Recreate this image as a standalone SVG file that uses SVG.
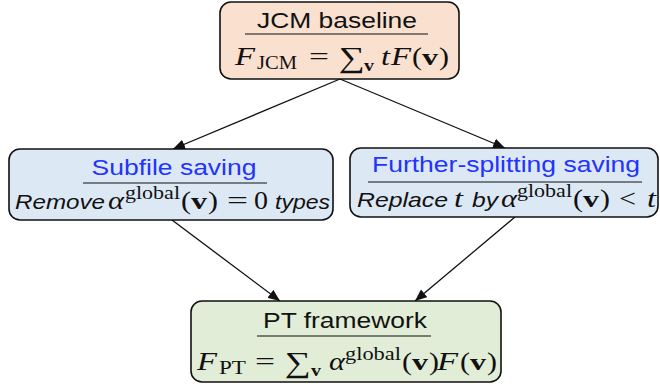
<svg xmlns="http://www.w3.org/2000/svg" width="660" height="388" viewBox="0 0 660 388">
<defs>
<style>
.box{stroke:#111;stroke-width:1.6}
.peach{fill:#f9e0cf}
.blue{fill:#dde8f5}
.green{fill:#e1edd6}
.ul{stroke:#111;stroke-width:1.2}
.t{font-family:"Liberation Sans",Arial,sans-serif;font-size:22px;fill:#111}
.tb{font-family:"Liberation Sans",Arial,sans-serif;font-size:22px;fill:#2233ff}
.ti{font-family:"Liberation Sans",Arial,sans-serif;font-size:21px;font-style:italic;fill:#111}
.m{font-family:"Liberation Serif","Times New Roman",serif;font-size:25px;fill:#111}
.mi{font-family:"Liberation Serif","Times New Roman",serif;font-size:25px;font-style:italic;fill:#111}
.mb{font-family:"Liberation Serif","Times New Roman",serif;font-size:23px;font-weight:bold;fill:#111}
.ms{font-family:"Liberation Serif","Times New Roman",serif;font-size:18px;fill:#111}
.msb{font-family:"Liberation Serif","Times New Roman",serif;font-size:16px;font-weight:bold;fill:#111}
.sum{font-family:"Liberation Serif","Times New Roman",serif;font-size:29px;fill:#111}
.edge{stroke:#111;stroke-width:1.3;fill:none;marker-end:url(#ah)}
</style>
<marker id="ah" viewBox="0 0 12 10" refX="12" refY="5" markerWidth="12" markerHeight="10" orient="auto" markerUnits="userSpaceOnUse">
<path d="M0,0 L12,5 L0,10 z" fill="#111"/>
</marker>
</defs>

<g id="connectors">
<line class="edge" x1="340" y1="79" x2="173" y2="149"/>
<line class="edge" x1="340" y1="79" x2="505" y2="148"/>
<line class="edge" x1="172" y1="220" x2="280" y2="301"/>
<line class="edge" x1="515" y1="217" x2="415" y2="301"/>
</g>

<g id="jcm">
<rect class="box peach" x="220" y="2" width="239" height="77" rx="11"/>
<text class="t" x="337" y="28" text-anchor="middle" textLength="160" lengthAdjust="spacingAndGlyphs">JCM baseline</text>
<line class="ul" x1="245" y1="34" x2="428" y2="34"/>
<text class="mi" x="235" y="65" textLength="20" lengthAdjust="spacingAndGlyphs">F</text>
<text class="ms" x="257" y="69" textLength="40" lengthAdjust="spacingAndGlyphs">JCM</text>
<text class="m" x="309" y="65" textLength="20" lengthAdjust="spacingAndGlyphs">=</text>
<text class="sum" x="339" y="67" textLength="26" lengthAdjust="spacingAndGlyphs">∑</text>
<text class="msb" x="364" y="71" textLength="10" lengthAdjust="spacingAndGlyphs">v</text>
<text class="mi" x="381" y="65" textLength="9" lengthAdjust="spacingAndGlyphs">t</text>
<text class="mi" x="391" y="65" textLength="20" lengthAdjust="spacingAndGlyphs">F</text>
<text class="m" x="412" y="65" textLength="10" lengthAdjust="spacingAndGlyphs">(</text>
<text class="mb" x="422" y="65" textLength="16" lengthAdjust="spacingAndGlyphs">v</text>
<text class="m" x="439" y="65" textLength="10" lengthAdjust="spacingAndGlyphs">)</text>
</g>

<g id="subfile">
<rect class="box blue" x="9" y="149" width="324" height="71" rx="11"/>
<text class="tb" x="174" y="175" text-anchor="middle" textLength="165" lengthAdjust="spacingAndGlyphs">Subfile saving</text>
<line class="ul" x1="83" y1="183" x2="267" y2="183"/>
<text class="ti" x="15" y="209" textLength="90" lengthAdjust="spacingAndGlyphs">Remove</text>
<text class="mi" x="108" y="209" textLength="16" lengthAdjust="spacingAndGlyphs">α</text>
<text class="ms" x="125" y="199" textLength="55" lengthAdjust="spacingAndGlyphs">global</text>
<text class="m" x="181" y="209" textLength="10" lengthAdjust="spacingAndGlyphs">(</text>
<text class="mb" x="191" y="209" textLength="16" lengthAdjust="spacingAndGlyphs">v</text>
<text class="m" x="208" y="209" textLength="10" lengthAdjust="spacingAndGlyphs">)</text>
<text class="m" x="227" y="209" textLength="21" lengthAdjust="spacingAndGlyphs">=</text>
<text class="m" x="254" y="209" textLength="14" lengthAdjust="spacingAndGlyphs">0</text>
<text class="ti" x="275" y="209" textLength="55" lengthAdjust="spacingAndGlyphs">types</text>
</g>

<g id="further">
<rect class="box blue" x="350" y="148" width="308" height="69" rx="11"/>
<text class="tb" x="506" y="172" text-anchor="middle" textLength="268" lengthAdjust="spacingAndGlyphs">Further-splitting saving</text>
<line class="ul" x1="368" y1="182" x2="642" y2="182"/>
<text class="ti" x="357" y="207" textLength="91" lengthAdjust="spacingAndGlyphs">Replace</text>
<text class="mi" x="454" y="207" textLength="9" lengthAdjust="spacingAndGlyphs">t</text>
<text class="ti" x="472" y="207" textLength="26" lengthAdjust="spacingAndGlyphs">by</text>
<text class="mi" x="501" y="207" textLength="16" lengthAdjust="spacingAndGlyphs">α</text>
<text class="ms" x="517" y="197" textLength="55" lengthAdjust="spacingAndGlyphs">global</text>
<text class="m" x="573" y="207" textLength="10" lengthAdjust="spacingAndGlyphs">(</text>
<text class="mb" x="583" y="207" textLength="16" lengthAdjust="spacingAndGlyphs">v</text>
<text class="m" x="600" y="207" textLength="10" lengthAdjust="spacingAndGlyphs">)</text>
<text class="m" x="619" y="207" textLength="17" lengthAdjust="spacingAndGlyphs">&lt;</text>
<text class="mi" x="647" y="207" textLength="9" lengthAdjust="spacingAndGlyphs">t</text>
</g>

<g id="pt">
<rect class="box green" x="191" y="301" width="310" height="81" rx="11"/>
<text class="t" x="345" y="328" text-anchor="middle" textLength="164" lengthAdjust="spacingAndGlyphs">PT framework</text>
<line class="ul" x1="257" y1="336" x2="431" y2="336"/>
<text class="mi" x="197" y="370" textLength="20" lengthAdjust="spacingAndGlyphs">F</text>
<text class="ms" x="219" y="374" textLength="27" lengthAdjust="spacingAndGlyphs">PT</text>
<text class="m" x="255" y="370" textLength="20" lengthAdjust="spacingAndGlyphs">=</text>
<text class="sum" x="285" y="372" textLength="26" lengthAdjust="spacingAndGlyphs">∑</text>
<text class="msb" x="311" y="376" textLength="10" lengthAdjust="spacingAndGlyphs">v</text>
<text class="mi" x="329" y="370" textLength="16" lengthAdjust="spacingAndGlyphs">α</text>
<text class="ms" x="345" y="360" textLength="56" lengthAdjust="spacingAndGlyphs">global</text>
<text class="m" x="402" y="370" textLength="10" lengthAdjust="spacingAndGlyphs">(</text>
<text class="mb" x="412" y="370" textLength="16" lengthAdjust="spacingAndGlyphs">v</text>
<text class="m" x="429" y="370" textLength="10" lengthAdjust="spacingAndGlyphs">)</text>
<text class="mi" x="437" y="370" textLength="21" lengthAdjust="spacingAndGlyphs">F</text>
<text class="m" x="460" y="370" textLength="10" lengthAdjust="spacingAndGlyphs">(</text>
<text class="mb" x="470" y="370" textLength="16" lengthAdjust="spacingAndGlyphs">v</text>
<text class="m" x="487" y="370" textLength="10" lengthAdjust="spacingAndGlyphs">)</text>
</g>
</svg>
